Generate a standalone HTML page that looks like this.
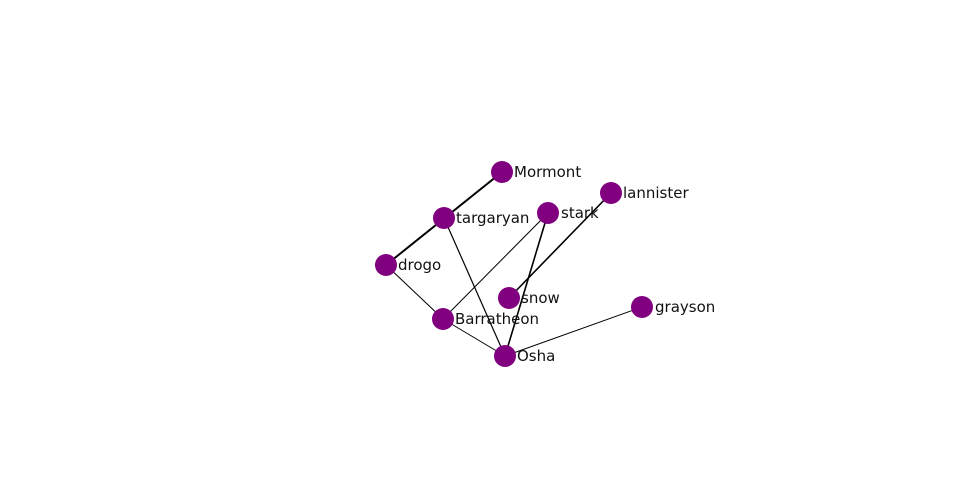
<!DOCTYPE html>
<html><head><meta charset="utf-8"><style>
html,body{margin:0;padding:0;background:#fff;width:960px;height:500px;overflow:hidden}
text{font-family:"DejaVu Sans","Liberation Sans",sans-serif;font-size:15px;fill:#111}
</style></head><body>
<svg width="960" height="500" xmlns="http://www.w3.org/2000/svg">
<g stroke="#000" fill="none">
<line x1="386" y1="265" x2="502" y2="172" stroke-width="2"/>
<line x1="444" y1="218" x2="505" y2="356" stroke-width="1.2"/>
<line x1="386" y1="265" x2="443" y2="319" stroke-width="1"/>
<line x1="443" y1="319" x2="505" y2="356" stroke-width="1"/>
<line x1="548" y1="213" x2="443" y2="319" stroke-width="1"/>
<line x1="548" y1="213" x2="505" y2="356" stroke-width="1.6"/>
<line x1="611" y1="193" x2="509" y2="298" stroke-width="1.6"/>
<line x1="505" y1="356" x2="642" y2="307" stroke-width="1"/>
</g>
<g fill="#800080">
<circle cx="502" cy="172" r="11"/>
<circle cx="444" cy="218" r="11"/>
<circle cx="386" cy="265" r="11"/>
<circle cx="548" cy="213" r="11"/>
<circle cx="611" cy="193" r="11"/>
<circle cx="509" cy="298" r="11"/>
<circle cx="443" cy="319" r="11"/>
<circle cx="505" cy="356" r="11"/>
<circle cx="642" cy="307" r="11"/>
</g>
<text x="514" y="177">Mormont</text>
<text x="456" y="223">targaryan</text>
<text x="398" y="270">drogo</text>
<text x="561" y="218">stark</text>
<text x="623" y="198">lannister</text>
<text x="521" y="303">snow</text>
<text x="455" y="324">Barratheon</text>
<text x="517" y="361">Osha</text>
<text x="655" y="312">grayson</text>
</svg>
</body></html>
